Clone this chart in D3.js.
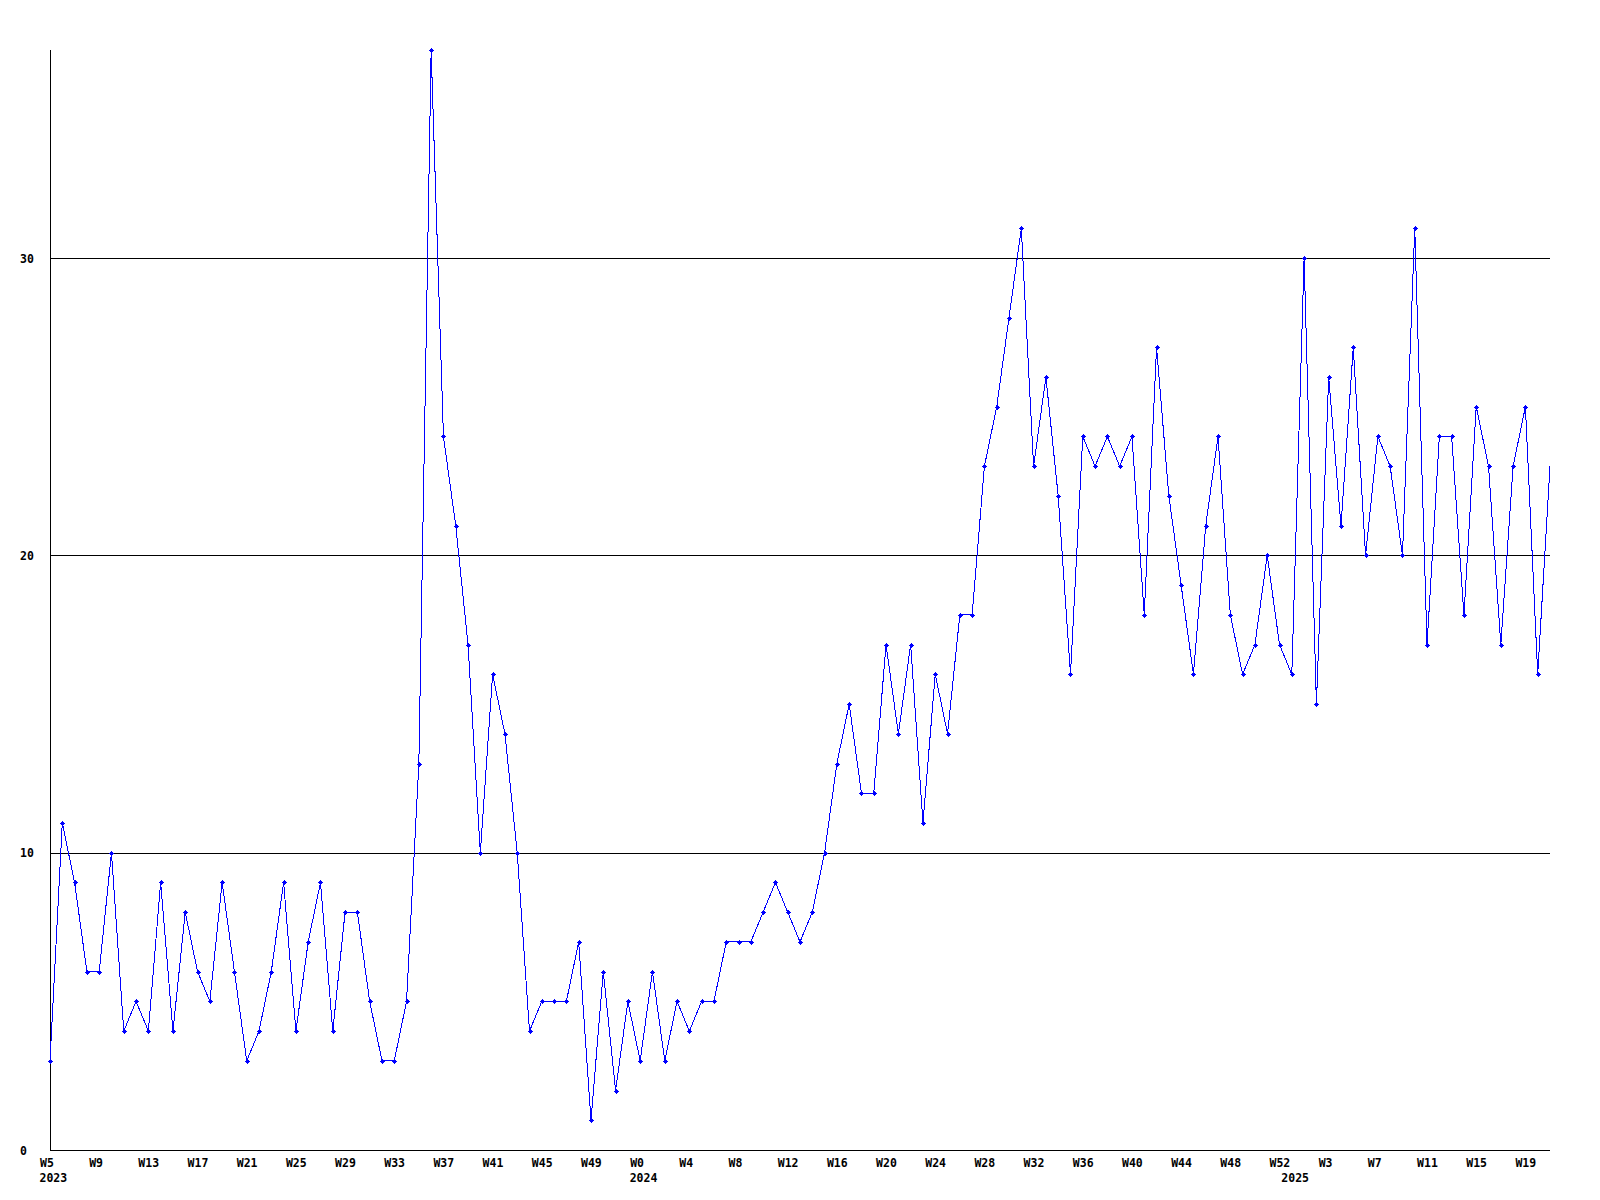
<!DOCTYPE html>
<html>
<head>
<meta charset="utf-8">
<script src="https://cdn.jsdelivr.net/npm/d3@7/dist/d3.min.js"></script>
<style>
  html, body { margin: 0; padding: 0; background: #ffffff; }
  svg { display: block; }
  text { font-family: "DejaVu Sans Mono", "Liberation Mono", monospace; font-weight: bold; font-size: 11.5px; fill: #000; }
</style>
</head>
<body>
<svg id="chart" width="1600" height="1200"></svg>
<script>
// ---- data ----
const weeks2023 = d3.range(5, 53).map(w => "W" + w);   // 2023 W5..W52
const weeks2024 = d3.range(0, 53).map(w => "W" + w);   // 2024 W0..W52
const weeks2025 = d3.range(0, 22).map(w => "W" + w);   // 2025 W0..W21
const categories = [...weeks2023, ...weeks2024, ...weeks2025];

const values2023 = [3, 11, 9, 6, 6, 10, 4, 5, 4, 9, 4, 8, 6, 5, 9, 6, 3, 4, 6, 9, 4, 7, 9, 4,
                    8, 8, 5, 3, 3, 5, 13, 37, 24, 21, 17, 10, 16, 14, 10, 4, 5, 5, 5, 7, 1, 6, 2, 5];
const values2024 = [3, 6, 3, 5, 4, 5, 5, 7, 7, 7, 8, 9, 8, 7, 8, 10, 13, 15, 12, 12, 17, 14, 17, 11,
                    16, 14, 18, 18, 23, 25, 28, 31, 23, 26, 22, 16, 24, 23, 24, 23, 24, 18, 27, 22, 19, 16,
                    21, 24, 18, 16, 17, 20, 17];
const values2025 = [16, 30, 15, 26, 21, 27, 20, 24, 23, 20, 31, 17, 24, 24, 18, 25, 23, 17, 23, 25, 16, 23];
const values = [...values2023, ...values2024, ...values2025];

const yTicks = [0, 10, 20, 30];
const tickLabels = ["W5","W9","W13","W17","W21","W25","W29","W33","W37","W41","W45","W49",
                    "W0","W4","W8","W12","W16","W20","W24","W28","W32","W36","W40","W44","W48","W52",
                    "W3","W7","W11","W15","W19"];
const yearLabels = ["2023", "2024", "2025"];

(function () {
  // ---- layout ----
  const svg = d3.select("#chart");
  const mLeft = 50, mRight = 1550, mTop = 50, mBottom = 1150;
  const yMax = d3.max(values);

  const x = d3.scaleLinear().domain([0, categories.length - 1]).range([mLeft, mRight]);
  const y = d3.scaleLinear().domain([0, yMax]).range([mBottom, mTop]);

  // grid lines + y labels
  const yAxis = d3.axisLeft(y).tickValues(yTicks).tickSize(-(mRight - mLeft)).tickFormat(d3.format("d"));
  const gy = svg.append("g").attr("transform", `translate(${mLeft},0)`).call(yAxis);
  gy.select(".domain").remove();
  gy.attr("font-family", null).attr("font-size", null);
  gy.selectAll(".tick line").attr("stroke", "#000").attr("stroke-width", 1).attr("shape-rendering", "crispEdges");
  gy.selectAll(".tick text").attr("x", 20 - mLeft).attr("text-anchor", "start").attr("dy", "0.36em");

  // left axis line
  svg.append("line").attr("x1", mLeft).attr("x2", mLeft).attr("y1", y(yMax)).attr("y2", mBottom)
    .attr("stroke", "#000").attr("stroke-width", 1).attr("shape-rendering", "crispEdges");

  // x axis labels
  const tickIdx = tickLabels.map((_, k) => k * 4);
  const xAxis = d3.axisBottom(x).tickValues(tickIdx).tickSize(0).tickFormat((d, k) => tickLabels[k]);
  const gx = svg.append("g").attr("transform", `translate(0,${mBottom})`).call(xAxis);
  gx.select(".domain").remove();
  gx.attr("font-family", null).attr("font-size", null);
  gx.selectAll(".tick text").attr("text-anchor", "start").attr("x", -10.5).attr("y", 17).attr("dy", 0);

  // year labels
  const yearIdx = [0, values2023.length, values2023.length + values2024.length];
  svg.append("g").selectAll("text").data(yearLabels).join("text")
    .attr("x", (d, k) => x(yearIdx[k]) - 10.5)
    .attr("y", mBottom + 32)
    .attr("text-anchor", "start")
    .text(d => d);

  // line
  const line = d3.line().x((d, i) => x(i)).y(d => y(d));
  svg.append("path").datum(values)
    .attr("d", line)
    .attr("fill", "none")
    .attr("stroke", "#0000ff")
    .attr("stroke-width", 1)
    .attr("shape-rendering", "crispEdges");

  // markers (last point sits on the plot edge and shows no marker)
  const markerPath = "M-2.5,-0.5h5v1h-5z M-0.5,-2.5h1v5h-1z M-1.5,-1.5h3v3h-3z";
  svg.append("g").selectAll("path").data(values.slice(0, values.length - 1)).join("path")
    .attr("d", markerPath)
    .attr("fill", "#0000ff")
    .attr("shape-rendering", "crispEdges")
    .attr("transform", (d, i) => `translate(${Math.round(x(i)) + 0.5},${Math.round(y(d)) + 0.5})`);
})();
</script>
</body>
</html>
